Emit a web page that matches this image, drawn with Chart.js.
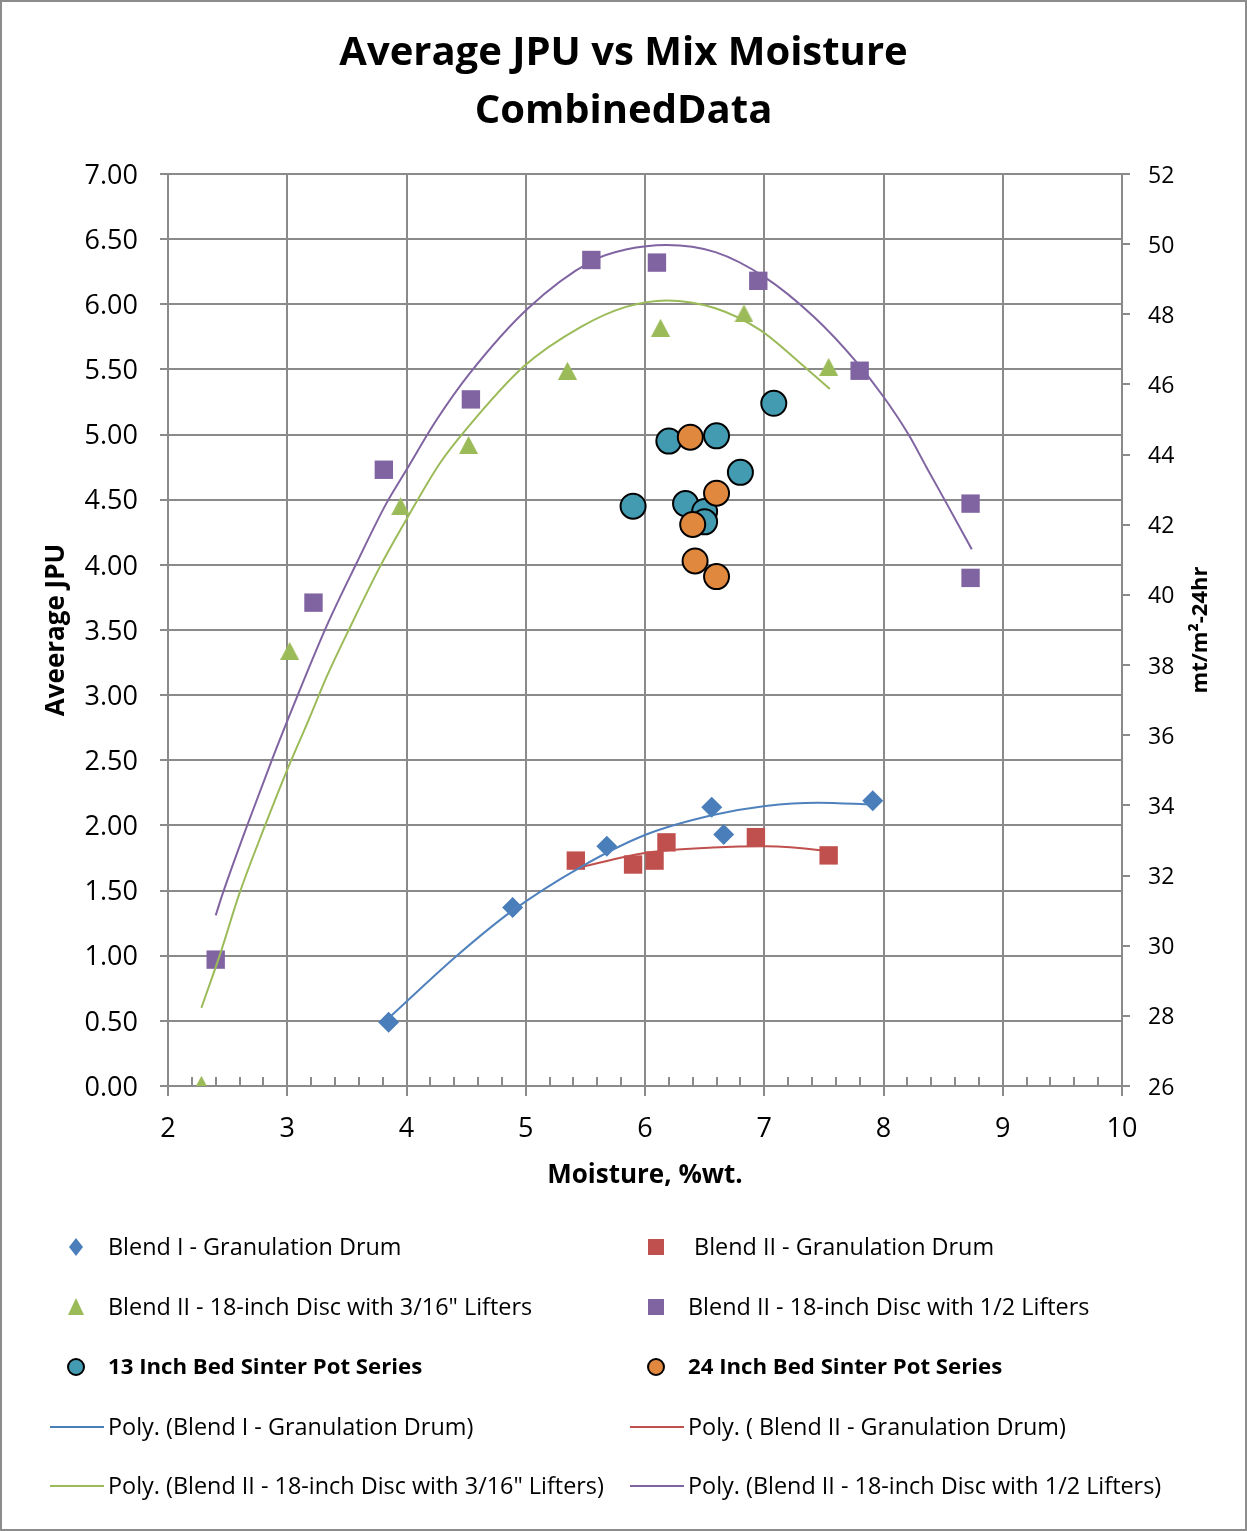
<!DOCTYPE html>
<html lang="en">
<head>
<meta charset="UTF-8">
<title>Average JPU vs Mix Moisture</title>
<script src="https://cdn.jsdelivr.net/npm/chart.js"></script>
<style>
  body { margin: 0; background: #fff; }
  .frame { position: relative; width: 1247px; height: 1531px; }
  .frame canvas { position: absolute; left: 0; top: 0; }
  .frame .edge { position: absolute; left: 0; top: 0; right: 0; bottom: 0; border: 2px solid #8c8c8c; box-sizing: border-box; pointer-events: none; }
</style>
</head>
<body>
<div class="frame">
  <canvas id="jpuChart" width="1247" height="1531"></canvas>
  <div class="edge"></div>
</div>
<script>
// measured points (moisture %wt, average JPU)
const blend1X = [3.85, 4.89, 5.68, 6.56, 6.66, 7.91];
const blend1Y = [0.49, 1.37, 1.84, 2.14, 1.93, 2.19];

const blend2X = [5.42, 5.90, 6.08, 6.18, 6.93, 7.54];
const blend2Y = [1.73, 1.70, 1.73, 1.87, 1.91, 1.77];

const disc316X = [2.28, 3.02, 3.95, 4.52, 5.35, 6.13, 6.83, 7.54];
const disc316Y = [0.01, 3.34, 4.45, 4.92, 5.49, 5.82, 5.93, 5.52];

const disc12X = [2.40, 3.22, 3.81, 4.54, 5.55, 6.10, 6.95, 7.80, 8.73, 8.73];
const disc12Y = [0.97, 3.71, 4.73, 5.27, 6.34, 6.32, 6.18, 5.49, 4.47, 3.90];

const pot13X = [7.08, 6.20, 6.60, 6.80, 5.90, 6.34, 6.50, 6.50];
const pot13Y = [5.24, 4.95, 4.99, 4.71, 4.45, 4.47, 4.41, 4.33];

const pot24X = [6.38, 6.60, 6.40, 6.42, 6.60];
const pot24Y = [4.98, 4.55, 4.31, 4.03, 3.91];

// trendlines
const trend1X = [3.85, 4.41, 4.88, 5.45, 6.01, 6.57, 7.01, 7.45, 7.91];
const trend1Y = [0.52, 0.99, 1.34, 1.675, 1.93, 2.08, 2.15, 2.175, 2.16];

const trend2X = [5.42, 6.01, 6.57, 7.01, 7.47, 7.535];
const trend2Y = [1.67, 1.79, 1.83, 1.84, 1.81, 1.80];

const trend316X = [2.28, 2.44, 2.60, 2.81, 3.01, 3.18, 3.33, 3.50, 3.78, 4.00, 4.28, 4.50, 4.98, 5.47, 5.84, 6.18, 6.59, 6.97, 7.30, 7.55];
const trend316Y = [0.60, 1.02, 1.48, 1.99, 2.45, 2.81, 3.14, 3.47, 3.99, 4.35, 4.78, 5.04, 5.52, 5.83, 5.98, 6.03, 5.97, 5.80, 5.55, 5.35];

const trend12X = [2.40, 2.46, 2.66, 2.87, 3.07, 3.33, 3.58, 3.83, 4.00, 4.25, 4.53, 5.02, 5.55, 5.84, 6.18, 6.59, 7.00, 7.42, 7.77, 8.00, 8.21, 8.36, 8.53, 8.74];
const trend12Y = [1.31, 1.48, 1.99, 2.50, 2.96, 3.53, 4.01, 4.47, 4.73, 5.11, 5.47, 5.97, 6.33, 6.42, 6.455, 6.40, 6.21, 5.90, 5.56, 5.29, 5.00, 4.75, 4.47, 4.12];

const seriesNames = [
    'Blend I - Granulation Drum',
    ' Blend II - Granulation Drum',
    'Blend II - 18-inch Disc with 3/16" Lifters',
    'Blend II - 18-inch Disc with 1/2 Lifters',
    '13 Inch Bed Sinter Pot Series',
    '24 Inch Bed Sinter Pot Series'
];

const BLUE = '#4a7ebb', RED = '#c0504d', GREEN = '#9bbb59', PURPLE = '#8064a2';
const TEAL = '#439bb2', ORANGE = '#e0883e';
const GRID = '#8a8a8a';
const FONT = "'Open Sans', 'DejaVu Sans', sans-serif";
const LEGEND_SIZE = 23.4;
const LEGEND_BOLD_SIZE = 22.2;

function toPoints(xs, ys) {
    return xs.map((x, i) => ({ x: x, y: ys[i] }));
}

// excel centres the triangle on its box, so build it as a little image
function triangleImage(color, w, h) {
    const c = document.createElement('canvas');
    c.width = w;
    c.height = h;
    const g = c.getContext('2d');
    g.fillStyle = color;
    g.beginPath();
    g.moveTo(w / 2, 0);
    g.lineTo(w, h);
    g.lineTo(0, h);
    g.closePath();
    g.fill();
    return c;
}

function markers(label, xs, ys, style, radius, color, extra) {
    return Object.assign({
        label: label,
        data: toPoints(xs, ys),
        showLine: false,
        pointStyle: style,
        pointRadius: radius,
        pointBackgroundColor: color,
        pointBorderColor: color,
        pointBorderWidth: 0,
        order: 3
    }, extra || {});
}

function trend(label, xs, ys, color) {
    return {
        label: label,
        data: toPoints(xs, ys),
        showLine: true,
        pointRadius: 0,
        borderColor: color,
        borderWidth: 2,
        cubicInterpolationMode: 'monotone',
        fill: false,
        order: 0
    };
}

const legendItems = [
    { text: seriesNames[0], kind: 'diamond', color: BLUE, col: 0, row: 0 },
    { text: seriesNames[1], kind: 'square', color: RED, col: 1, row: 0 },
    { text: seriesNames[2], kind: 'triangle', color: GREEN, col: 0, row: 1 },
    { text: seriesNames[3], kind: 'square', color: PURPLE, col: 1, row: 1 },
    { text: seriesNames[4], kind: 'circle', color: TEAL, col: 0, row: 2, bold: true },
    { text: seriesNames[5], kind: 'circle', color: ORANGE, col: 1, row: 2, bold: true },
    { text: 'Poly. (' + seriesNames[0] + ')', kind: 'line', color: BLUE, col: 0, row: 3 },
    { text: 'Poly. (' + seriesNames[1] + ')', kind: 'line', color: RED, col: 1, row: 3 },
    { text: 'Poly. (' + seriesNames[2] + ')', kind: 'line', color: GREEN, col: 0, row: 4 },
    { text: 'Poly. (' + seriesNames[3] + ')', kind: 'line', color: PURPLE, col: 1, row: 4 }
];

function drawMarker(ctx, kind, color, x, y) {
    ctx.save();
    ctx.fillStyle = color;
    ctx.strokeStyle = color;
    ctx.beginPath();
    if (kind === 'diamond') {
        ctx.moveTo(x, y - 9); ctx.lineTo(x + 7, y); ctx.lineTo(x, y + 9); ctx.lineTo(x - 7, y);
        ctx.closePath(); ctx.fill();
    } else if (kind === 'square') {
        ctx.rect(x - 8, y - 8, 16, 16); ctx.fill();
    } else if (kind === 'triangle') {
        ctx.moveTo(x, y - 9); ctx.lineTo(x + 8, y + 8); ctx.lineTo(x - 8, y + 8);
        ctx.closePath(); ctx.fill();
    } else if (kind === 'circle') {
        ctx.arc(x, y, 8, 0, Math.PI * 2); ctx.fill();
        ctx.lineWidth = 2; ctx.strokeStyle = '#000'; ctx.stroke();
    } else if (kind === 'line') {
        ctx.lineWidth = 2;
        ctx.moveTo(x - 26, y); ctx.lineTo(x + 28, y); ctx.stroke();
    }
    ctx.restore();
}

const excelExtras = {
    id: 'excelExtras',
    beforeDatasetsDraw(chart) {
        // minor tick marks inside the x axis
        const ctx = chart.ctx;
        const xs = chart.scales.x;
        const bottom = chart.chartArea.bottom;
        ctx.save();
        ctx.strokeStyle = GRID;
        ctx.lineWidth = 2;
        for (let i = 0; i <= 40; i++) {
            if (i % 5 === 0) continue;
            const px = Math.round(xs.getPixelForValue(2 + i * 0.2));
            ctx.beginPath();
            ctx.moveTo(px, bottom - 9);
            ctx.lineTo(px, bottom);
            ctx.stroke();
        }
        ctx.restore();
    },
    afterDraw(chart) {
        const ctx = chart.ctx;
        const area = chart.chartArea;
        ctx.save();
        // right axis title, reading bottom to top
        ctx.translate(1201, (area.top + area.bottom) / 2);
        ctx.rotate(-Math.PI / 2);
        ctx.font = 'bold 22px ' + FONT;
        ctx.fillStyle = '#000';
        ctx.textAlign = 'center';
        ctx.textBaseline = 'middle';
        ctx.fillText('mt/m\u00B2-24hr', 0, 0);
        ctx.restore();

        // two column legend
        const rowsY = [1248, 1308, 1368, 1428, 1487];
        const markX = [76, 656];
        const textX = [108, 688];
        ctx.save();
        ctx.textBaseline = 'middle';
        ctx.textAlign = 'left';
        legendItems.forEach(item => {
            const y = rowsY[item.row];
            drawMarker(ctx, item.kind, item.color, markX[item.col], y - 1);
            ctx.font = item.bold ? 'bold ' + LEGEND_BOLD_SIZE + 'px ' + FONT : LEGEND_SIZE + 'px ' + FONT;
            ctx.fillStyle = '#000';
            ctx.fillText(item.text, textX[item.col], y);
        });
        ctx.restore();
    }
};

new Chart(document.getElementById('jpuChart'), {
    type: 'scatter',
    data: {
        datasets: [
            markers(seriesNames[0], blend1X, blend1Y, 'rectRot', 10.5, BLUE),
            markers(seriesNames[1], blend2X, blend2Y, 'rect', 13, RED),
            markers(seriesNames[2], disc316X, disc316Y, triangleImage(GREEN, 19, 18), 10, GREEN),
            markers(seriesNames[3], disc12X, disc12Y, 'rect', 13, PURPLE),
            markers(seriesNames[4], pot13X, pot13Y, 'circle', 12.5, TEAL,
                { pointBorderColor: '#000', pointBorderWidth: 2, order: 2 }),
            markers(seriesNames[5], pot24X, pot24Y, 'circle', 12.5, ORANGE,
                { pointBorderColor: '#000', pointBorderWidth: 2, order: 1 }),
            trend('Poly. (' + seriesNames[0] + ')', trend1X, trend1Y, '#4f81bd'),
            trend('Poly. (' + seriesNames[1] + ')', trend2X, trend2Y, RED),
            trend('Poly. (' + seriesNames[2] + ')', trend316X, trend316Y, GREEN),
            trend('Poly. (' + seriesNames[3] + ')', trend12X, trend12Y, PURPLE)
        ]
    },
    options: {
        responsive: false,
        animation: false,
        devicePixelRatio: 1,
        layout: { padding: { left: 0, right: 0, top: 0, bottom: 315 } },
        plugins: {
            legend: { display: false },
            tooltip: { enabled: false },
            title: {
                display: true,
                text: ['Average JPU vs Mix Moisture', 'CombinedData'],
                color: '#000',
                font: { family: FONT, size: 40, weight: 'bold', lineHeight: 1.45 },
                padding: { top: 25, bottom: 33 }
            }
        },
        scales: {
            x: {
                type: 'linear',
                min: 2,
                max: 10,
                ticks: { stepSize: 1, color: '#000', padding: 17, font: { family: FONT, size: 27 } },
                grid: { color: GRID, lineWidth: 2, tickLength: 10 },
                border: { color: GRID, width: 2 },
                title: {
                    display: true,
                    text: 'Moisture, %wt.',
                    color: '#000',
                    font: { family: FONT, size: 26, weight: 'bold' },
                    padding: { top: 0, bottom: 25 }
                },
                afterFit(scale) { scale.height = 130; }
            },
            y: {
                type: 'linear',
                position: 'left',
                min: 0,
                max: 7,
                ticks: {
                    stepSize: 0.5,
                    color: '#000',
                    padding: 22,
                    labelOffset: 2,
                    font: { family: FONT, size: 27 },
                    callback: v => v.toFixed(2)
                },
                grid: { color: GRID, lineWidth: 2, tickLength: 8 },
                border: { color: GRID, width: 2 },
                title: {
                    display: true,
                    text: 'Aveerage JPU',
                    color: '#000',
                    font: { family: FONT, size: 26, weight: 'bold' },
                    padding: { top: 41, bottom: 0 }
                },
                afterFit(scale) { scale.width = 168; }
            },
            y2: {
                type: 'linear',
                position: 'right',
                min: 26,
                max: 52,
                ticks: { stepSize: 2, color: '#000', padding: 18, labelOffset: 2, font: { family: FONT, size: 23 } },
                grid: { drawOnChartArea: false, color: GRID, lineWidth: 2, tickLength: 8 },
                border: { color: GRID, width: 2 },
                afterFit(scale) { scale.width = 125; }
            }
        }
    },
    plugins: [excelExtras]
});
</script>
</body>
</html>
